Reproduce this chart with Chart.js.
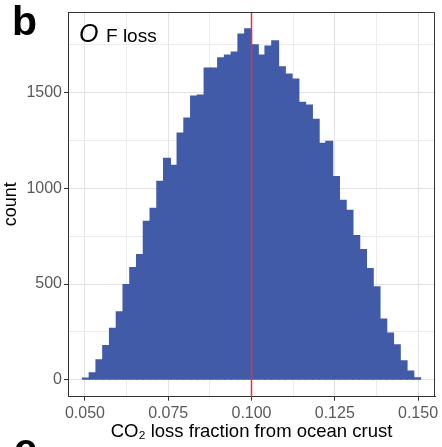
<!DOCTYPE html>
<html lang="en">
<head>
<meta charset="UTF-8">
<title>CO2 loss fraction from ocean crust</title>
<style>
  html, body { margin: 0; padding: 0; background: #fff; }
  canvas { display: block; }
</style>
</head>
<body>
<canvas id="histCanvas" width="442" height="447"></canvas>
<script src="https://cdn.jsdelivr.net/npm/chart.js"></script>
<script>
  // histogram bins (50 bins)
  const binStart = 0.04925;
  const binWidth = 0.00203;
  const counts = [
    8, 36, 103, 178, 268, 355, 497, 586, 654, 827,
    895, 1037, 1157, 1121, 1289, 1367, 1482, 1488, 1629, 1629,
    1682, 1697, 1713, 1807, 1834, 1750, 1697, 1744, 1771, 1635,
    1597, 1571, 1450, 1435, 1361, 1235, 1246, 1062, 937, 885,
    753, 680, 580, 485, 317, 244, 182, 98, 45, 9
  ];
  const meanLine = 0.100;

  const xTicks = [0.05, 0.0625, 0.075, 0.0875, 0.1, 0.1125, 0.125, 0.1375, 0.15];
  const xLabels = [0.05, 0.075, 0.1, 0.125, 0.15];
  const yTicks = [0, 250, 500, 750, 1000, 1250, 1500, 1750];
  const yLabels = [0, 500, 1000, 1500];

  const FONT = '"Liberation Sans", Arial, Helvetica, sans-serif';

  const points = counts.map((c, i) => ({ x: binStart + (i + 0.5) * binWidth, y: c }));

  const isIn = (list, v) => list.some(t => Math.abs(t - v) < 1e-9);

  const panelExtras = {
    id: 'panelExtras',
    afterDatasetsDraw(chart) {
      const { ctx, chartArea: a, scales: { x } } = chart;
      const px = Math.floor(x.getPixelForValue(meanLine)) + 0.5;
      ctx.save();
      // vertical reference line
      ctx.strokeStyle = '#ee2e36';
      ctx.lineWidth = 1.5;
      ctx.beginPath();
      ctx.moveTo(px, a.top);
      ctx.lineTo(px, a.bottom);
      ctx.stroke();
      // top and right panel border
      ctx.strokeStyle = '#333';
      ctx.lineWidth = 1;
      const t = Math.round(a.top) + 0.5;
      const r = Math.round(a.right) - 0.5;
      ctx.beginPath();
      ctx.moveTo(a.left, t);
      ctx.lineTo(r, t);
      ctx.lineTo(r, a.bottom);
      ctx.stroke();
      ctx.restore();
    },
    afterDraw(chart) {
      const { ctx } = chart;
      ctx.save();
      ctx.fillStyle = '#000';
      ctx.textBaseline = 'alphabetic';
      ctx.textAlign = 'left';
      ctx.font = 'bold 41px ' + FONT;
      ctx.fillText('b', 12, 35);
      ctx.fillText('c', 14, 462);
      ctx.font = 'italic 25px ' + FONT;
      ctx.fillText('O', 79, 42);
      ctx.font = '19px ' + FONT;
      ctx.fillText('F loss', 106, 42);
      ctx.restore();
    }
  };

  new Chart(document.getElementById('histCanvas'), {
    type: 'bar',
    data: {
      datasets: [{
        data: points,
        backgroundColor: '#425ba8',
        borderWidth: 0,
        barPercentage: 1.0,
        categoryPercentage: 1.0,
        inflateAmount: 0.6
      }]
    },
    options: {
      responsive: false,
      animation: false,
      devicePixelRatio: 1,
      layout: { padding: { left: 0, right: 7, top: 12, bottom: 0 } },
      plugins: { legend: { display: false }, tooltip: { enabled: false } },
      scales: {
        x: {
          type: 'linear',
          min: 0.0449,
          max: 0.1551,
          offset: false,
          afterBuildTicks: s => { s.ticks = xTicks.map(v => ({ value: v })); },
          afterFit: s => { s.height = 50.3; },
          grid: {
            offset: false,
            color: c => isIn(xLabels, c.tick.value) ? '#e3e3e3' : '#ececec',
            lineWidth: 1,
            tickLength: 4,
            tickColor: c => isIn(xLabels, c.tick.value) ? '#333' : 'rgba(0,0,0,0)'
          },
          border: { color: '#333', width: 1 },
          ticks: {
            autoSkip: false,
            maxRotation: 0,
            padding: 3,
            color: '#5a5a5a',
            font: { family: FONT, size: 16 },
            callback: v => isIn(xLabels, v) ? v.toFixed(3) : ''
          },
          title: {
            display: true,
            text: 'CO\u2082 loss fraction from ocean crust',
            color: '#000',
            font: { family: FONT, size: 18.5 },
            padding: { top: 0, bottom: 4 }
          }
        },
        y: {
          min: -89,
          max: 1922,
          afterBuildTicks: s => { s.ticks = yTicks.map(v => ({ value: v })); },
          afterFit: s => { s.width = 68; },
          grid: {
            color: c => isIn(yLabels, c.tick.value) ? '#e3e3e3' : '#ececec',
            lineWidth: 1,
            tickLength: 4,
            tickColor: c => isIn(yLabels, c.tick.value) ? '#333' : 'rgba(0,0,0,0)'
          },
          border: { color: '#333', width: 1 },
          ticks: {
            autoSkip: false,
            padding: 2,
            color: '#5a5a5a',
            font: { family: FONT, size: 16 },
            callback: v => isIn(yLabels, v) ? String(v) : ''
          },
          title: {
            display: true,
            text: 'count',
            color: '#000',
            font: { family: FONT, size: 18 },
            padding: { top: 0, bottom: 0 }
          }
        }
      }
    },
    plugins: [panelExtras]
  });
</script>
</body>
</html>
